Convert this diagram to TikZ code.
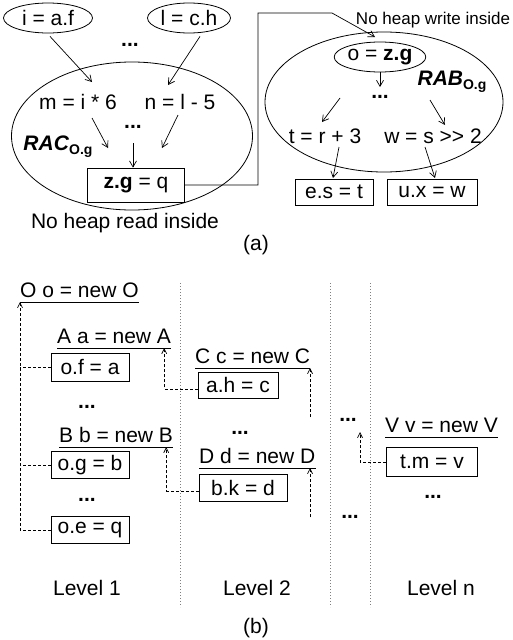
\documentclass[tikz,border=0pt]{standalone}
\usepackage{fontspec}
\setmainfont{Liberation Sans}
\usetikzlibrary{shapes.geometric,arrows.meta}
\tikzset{
  every node/.style={font=\fontsize{21}{24}\selectfont},
  ell/.style={draw, ellipse, line width=0.8pt, inner sep=0pt},
  stmtbox/.style={draw, line width=0.8pt, inner sep=0pt},
  txt/.style={inner sep=0pt},
  dotsn/.style={inner sep=0pt, font=\fontsize{21}{24}\selectfont\bfseries},
  undl/.style={inner sep=0pt, anchor=base west},
  arr/.style={line width=0.7pt, -{Straight Barb[length=6pt,width=7pt]}},
  plain/.style={line width=0.8pt},
  dasharr/.style={line width=0.7pt, dash pattern=on 3pt off 2pt, -{Straight Barb[length=5pt,width=5pt]}},
  dashln/.style={line width=0.7pt, dash pattern=on 3pt off 2pt},
  sep/.style={gray, line width=0.6pt, dash pattern=on 1pt off 2pt},
}
\newcommand{\subog}{\raisebox{-0.35ex}{\fontsize{14}{14}\selectfont\bfseries O.g}}
\begin{document}
\begin{tikzpicture}[x=1pt,y=-1pt]
\useasboundingbox (0,0) rectangle (512,640);
% ---------- (a) left ----------
\node[ell, minimum width=89pt, minimum height=30pt] (ia) at (48,18) {i = a.f};
\node[ell, minimum width=83pt, minimum height=30pt] (lc) at (189,18) {l = c.h};
\node[dotsn] (d1) at (130,45) {...};
\node[ell, minimum width=241pt, minimum height=148pt] (rac) at (132,136) {};
\node[txt] (m) at (78,102) {m = i * 6};
\node[txt] (n) at (180,102) {n = l - 5};
\node[dotsn] (d2) at (133,127) {...};
\node[txt] (raclab) at (58,147) {\textbf{\textit{RAC}}\subog};
\node[stmtbox, minimum width=97pt, minimum height=34pt] (zg) at (136,185) {\textbf{z.g} = q};
\node[txt] (noread) at (125,223) {No heap read inside};
\coordinate (e1) at (92,82);
\coordinate (e2) at (168,85);
\coordinate (s3) at (92,118);
\coordinate (e3) at (108,148);
\coordinate (s4) at (178,115);
\coordinate (e4) at (162,148);
\coordinate (s5) at (133,143);
\draw[arr] ([xshift=2pt,yshift=-3pt]ia.south) -- (e1);
\draw[arr] ([xshift=11pt,yshift=-3pt]lc.south) -- (e2);
\draw[arr] (s3) -- (e3);
\draw[arr] (s4) -- (e4);
\draw[arr] (s5) -- (s5 |- zg.north);
% ---------- (a) right ----------
\node[txt, font=\fontsize{17}{20}\selectfont] (nowrite) at (433,20) {No heap write inside};
\node[ell, minimum width=238pt, minimum height=140pt] (rab) at (384,102) {};
\node[ell, minimum width=86pt, minimum height=30pt] (oz) at (380,57) {o = \textbf{z.g}};
\node[dotsn] (d3) at (380,97) {...};
\node[txt] (rablab) at (452,82) {\textbf{\textit{RAB}}\subog};
\node[txt] (t) at (325,136) {t = r + 3};
\node[txt] (w) at (433,136) {w = s >{}> 2};
\node[stmtbox, minimum width=78pt, minimum height=26pt] (es) at (334,192) {e.s = t};
\node[stmtbox, minimum width=90pt, minimum height=26pt] (ux) at (432,192) {u.x = w};
\coordinate (k1) at (258,13);
\coordinate (k2) at (332,13);
\coordinate (k3) at (375,37);
\draw[arr] (zg.east) -- (zg.east -| k1) -- (k1) -- (k2) -- (k3);
\coordinate (e7) at (380,87);
\coordinate (s8) at (340,98);
\coordinate (e8) at (322,122);
\coordinate (s9) at (430,100);
\coordinate (e9) at (445,125);
\coordinate (s10) at (339,147);
\coordinate (e10) at (333,178);
\coordinate (s11) at (425,147);
\coordinate (e11) at (435,178);
\draw[arr] (oz.south) -- (e7);
\draw[arr] (s8) -- (e8);
\draw[arr] (s9) -- (e9);
\draw[arr] (s10) -- (e10);
\draw[arr] (s11) -- (e11);
\node[txt] (alab) at (256,245) {(a)};
% ---------- (b) ----------
\draw[sep] (180,283) -- (180,607);
\draw[sep] (330,283) -- (330,607);
\draw[sep] (370,283) -- (370,607);
% Level 1
\node[undl] (O) at (20,297) {O o = new O};
\node[undl] (A) at (57,343) {A a = new A};
\node[undl] (B) at (59,442) {B b = new B};
\foreach \nm in {O,A,B} \draw[plain] ([yshift=-5pt]\nm.base west) -- ([yshift=-5pt]\nm.base east);
\node[stmtbox, minimum width=78pt, minimum height=28pt] (of) at (90,367) {o.f = a};
\node[stmtbox, minimum width=78pt, minimum height=27pt] (og) at (90,465) {o.g = b};
\node[stmtbox, minimum width=78pt, minimum height=27pt] (oe) at (90,530) {o.e = q};
\node[dotsn] (d4) at (87,407) {...};
\node[dotsn] (d5) at (87,500) {...};
\draw[dasharr] (oe.west) -| ([yshift=-5pt]O.base west);
\draw[dashln] (of.west) -- (of.west -| O.base west);
\draw[dashln] (og.west) -- (og.west -| O.base west);
% Level 2
\node[undl] (C) at (195,363) {C c = new C};
\node[undl] (D) at (199,463) {D d = new D};
\foreach \nm in {C,D} \draw[plain] ([yshift=-5pt]\nm.base west) -- ([yshift=-5pt]\nm.base east);
\coordinate (Cu) at ([yshift=-5pt]C.base);
\coordinate (Du) at ([yshift=-5pt]D.base);
\node[stmtbox, minimum width=80pt, minimum height=26pt] (ah) at (238,385) {a.h = c};
\node[stmtbox, minimum width=88pt, minimum height=27pt] (bk) at (243,488) {b.k = d};
\node[dotsn] (d6) at (240,433) {...};
\draw[dasharr] ([yshift=-4pt]ah.west) -| ([xshift=-7pt,yshift=-5pt]A.base east);
\draw[dasharr] ([yshift=-3pt]bk.west) -| ([xshift=-7pt,yshift=-5pt]B.base east);
\coordinate (c1) at (310,417);
\coordinate (c2) at (310,517);
\draw[dasharr] (c1) -- (c1 |- Cu);
\draw[dasharr] (c2) -- (c2 |- Du);
% Level n
\node[dotsn] (d7) at (348,420) {...};
\node[dotsn] (d8) at (350,517) {...};
\node[undl] (V) at (385,432) {V v = new V};
\draw[plain] ([yshift=-5pt]V.base west) -- ([yshift=-5pt]V.base east);
\node[stmtbox, minimum width=91pt, minimum height=29pt] (tm) at (432,462) {t.m = v};
\node[dotsn] (d9) at (433,497) {...};
\coordinate (c3) at (360,432);
\draw[dasharr] (tm.west) -| (c3);
% labels
\node[txt] (l1) at (87,588) {Level 1};
\node[txt] (l2) at (257,588) {Level 2};
\node[txt] (ln) at (441,588) {Level n};
\node[txt] (blab) at (256,628) {(b)};
\end{tikzpicture}
\end{document}
